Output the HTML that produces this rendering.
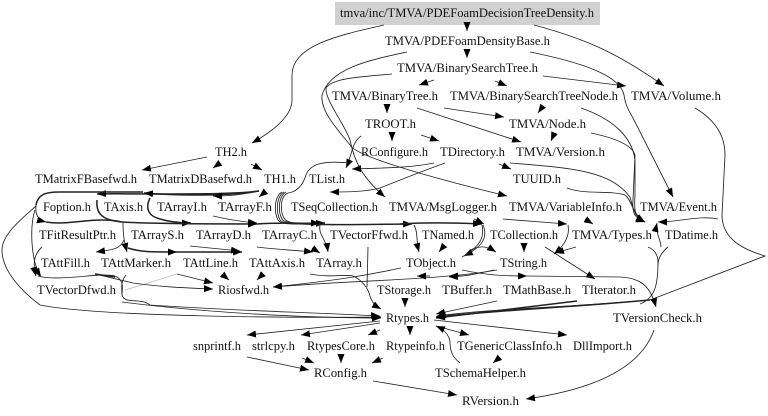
<!DOCTYPE html>
<html><head><meta charset="utf-8"><style>
html,body{margin:0;padding:0;background:#fff}
svg{display:block}
text{font-family:"Liberation Serif",serif;font-size:12.6px;fill:#111}
path{fill:none;stroke:#222;stroke-width:.85;marker-end:url(#a)}
path.n{marker-end:none}
path.t{stroke-width:1.5}
path.g{stroke:#bbb;marker-end:none}
</style></head><body>
<svg width="768" height="416" viewBox="0 0 768 416" xmlns="http://www.w3.org/2000/svg">
<defs><marker id="a" markerUnits="userSpaceOnUse" markerWidth="9" markerHeight="7" refX="9" refY="3.5" orient="auto"><path class="n" d="M0,0L9,3.5L0,7z" style="fill:#000;stroke:none"/></marker></defs>
<rect x="335" y="2" width="265" height="23" fill="#d0d0d0"/>
<g>
<path d="M467 23L467 31"/>
<path d="M467 50L467 58"/>
<path d="M384 25C340 35 292 45 292 75L292 100C292 115 275 130 252 143"/>
<path d="M534 25C590 40 620 55 664 86"/>
<path d="M407 52C370 60 330 68 322 95C320 112 340 132 350 145C354 155 420 175 507 196"/>
<path d="M392 74C360 77 332 78 326 88C325 100 345 125 350 140C355 165 365 180 385 197"/>
<path d="M361 136C352 142 352 155 346 168"/>
<path d="M434 80L419 85"/>
<path d="M495 81L507 86"/>
<path d="M543 76L626 86"/>
<path d="M530 52C580 62 620 75 624 95C626 108 630 112 634 120L673 197"/>
<path d="M387 105L387 113"/>
<path d="M444 108L504 117"/>
<path d="M417 108L521 142"/>
<path d="M543 106L538 113"/>
<path d="M554 134L551 141"/>
<path d="M392 134L392 141"/>
<path d="M421 135L439 141"/>
<path d="M581 108C610 118 632 135 635 160L635 195C634 210 634 216 645 222"/>
<path d="M591 133C615 138 632 145 635 155L633 200C632 212 634 218 645 222"/>
<path d="M510 163C570 168 610 170 630 197C634 212 636 218 645 222"/>
<path d="M567 188C585 195 610 190 625 195C632 200 632 214 645 222"/>
<path d="M718 219C700 215 680 222 658 222"/>
<path d="M695 108C715 120 725 135 725 155L722 215C722 240 745 250 765 256L650 300C560 308 500 308 437 316"/>
<path class="n" d="M648 247C655 250 658 255 658 262C658 285 655 298 640 304"/>
<path class="n" d="M668 247C662 252 658 258 658 265"/>
<path d="M661 247C661 240 655 232 657 223"/>
<path d="M207 157L142 170"/>
<path d="M220 163L213 168"/>
<path d="M251 164L262 170"/>
<path d="M265 192L259 197"/>
<path class="t" d="M259 191C220 196 120 193 97 194"/>
<path class="t" d="M259 191C230 196 180 196 144 193"/>
<path d="M259 191C240 195 230 196 213 196"/>
<path class="t n" d="M143 192L60 192C44 192 38 195 36 205"/>
<path d="M36 205C35 215 38 220 46 222"/>
<path d="M36 206C20 220 2 235 2 250C2 270 20 290 40 305C100 317 300 318 381 317"/>
<path d="M35 210C30 225 30 260 41 277"/>
<path d="M42 247C33 255 33 265 36 276"/>
<path class="t n" d="M97 200C96 212 100 220 122 222"/>
<path class="t" d="M150 198C145 208 148 216 160 219C170 222 180 223 191 223"/>
<path class="t" d="M46 222C70 226 95 216 122 222C150 224 220 224 257 224"/>
<path class="t" d="M257 224C280 222 300 224 325 223"/>
<path d="M213 216C230 220 245 222 257 223"/>
<path class="t" d="M285 223C330 226 380 224 412 224"/>
<path class="t" d="M400 224C430 222 460 223 482 224"/>
<path d="M350 163C320 160 310 165 306 175C302 188 295 192 288 193C280 196 280 212 284 218C287 224 295 223 320 223"/>
<path class="n" d="M286 192C278 197 278 212 282 219C285 224 295 223 310 224"/>
<path class="n" d="M284 192C276 197 276 212 280 220C283 224 295 224 310 224"/>
<path class="n" d="M282 192C274 197 274 212 278 220C281 225 295 224 310 224"/>
<path d="M434 163C410 168 380 168 352 169"/>
<path d="M445 163C420 172 400 180 380 188C365 192 345 192 330 192"/>
<path d="M499 164L511 169"/>
<path d="M503 219L567 224"/>
<path d="M568 225C570 235 565 245 554 254"/>
<path d="M576 247L555 253"/>
<path d="M585 219L593 224"/>
<path d="M524 245L524 252"/>
<path d="M545 247L595 279"/>
<path d="M443 247L439 252"/>
<path d="M414 225C418 232 416 240 419 252"/>
<path d="M474 219L484 224"/>
<path d="M483 225C487 235 486 245 464 256"/>
<path class="n" d="M482 225C484 235 483 245 462 257"/>
<path d="M470 250C480 246 485 245 496 252"/>
<path d="M257 247C280 250 295 250 313 252"/>
<path d="M312 248L320 253"/>
<path d="M320 225C318 235 326 238 328 252"/>
<path d="M123 222C123 235 124 240 127 252"/>
<path d="M124 240C120 250 110 250 96 252"/>
<path class="t" d="M128 248C140 252 150 252 177 252"/>
<path class="t" d="M177 252L242 252"/>
<path d="M190 246L240 251"/>
<path class="t n" d="M95 274L115 277"/>
<path d="M38 276C60 282 100 272 115 276C125 280 122 290 122 295C125 305 140 297 150 305C220 310 300 312 380 316"/>
<path class="n" d="M126 275C120 282 122 290 122 295"/>
<path d="M122 302C200 312 300 318 381 318"/>
<path d="M177 274L213 283"/>
<path class="g" d="M125 290L177 274"/>
<path d="M95 274L133 283C160 287 190 288 213 289"/>
<path d="M223 275L229 280"/>
<path d="M263 274L257 280"/>
<path d="M401 268C380 272 360 278 273 287"/>
<path d="M497 270C440 280 360 280 273 287"/>
<path d="M430 276L417 276"/>
<path d="M462 276L449 276"/>
<path d="M494 270C480 273 470 276 449 277"/>
<path d="M462 270C490 276 510 276 527 276"/>
<path d="M527 276L620 277C640 278 650 285 656 307"/>
<path class="n" d="M368 247L367 287"/>
<path d="M353 276C362 280 368 288 370 296C372 302 374 305 381 309"/>
<path class="n" d="M310 274C330 278 345 274 353 276"/>
<path d="M405 300L405 307"/>
<path d="M497 301L436 314"/>
<path class="t" d="M577 301L436 318"/>
<path class="t" d="M650 300C560 308 500 310 436 317"/>
<path d="M380 321L247 335"/>
<path d="M380 323L301 335"/>
<path d="M380 330L368 335"/>
<path d="M410 328L410 335"/>
<path d="M434 320L567 335"/>
<path d="M436 326L469 335"/>
<path d="M460 363C452 357 450 350 450 342C449 335 445 330 436 326"/>
<path d="M499 358L493 363"/>
<path d="M247 357L309 370"/>
<path d="M302 358L314 363"/>
<path d="M341 356L341 363"/>
<path d="M383 358L372 363"/>
<path d="M373 381L457 395"/>
<path d="M654 330C640 370 590 390 526 399"/>
</g>
<g>
<text x="340" y="17" textLength="254" lengthAdjust="spacingAndGlyphs">tmva/inc/TMVA/PDEFoamDecisionTreeDensity.h</text>
<text x="385" y="45" textLength="165" lengthAdjust="spacingAndGlyphs">TMVA/PDEFoamDensityBase.h</text>
<text x="397" y="72" textLength="141" lengthAdjust="spacingAndGlyphs">TMVA/BinarySearchTree.h</text>
<text x="332" y="100" textLength="106" lengthAdjust="spacingAndGlyphs">TMVA/BinaryTree.h</text>
<text x="450" y="100" textLength="168" lengthAdjust="spacingAndGlyphs">TMVA/BinarySearchTreeNode.h</text>
<text x="631" y="100" textLength="90" lengthAdjust="spacingAndGlyphs">TMVA/Volume.h</text>
<text x="365" y="128" textLength="51" lengthAdjust="spacingAndGlyphs">TROOT.h</text>
<text x="509" y="128" textLength="77" lengthAdjust="spacingAndGlyphs">TMVA/Node.h</text>
<text x="215" y="156" textLength="32" lengthAdjust="spacingAndGlyphs">TH2.h</text>
<text x="361" y="156" textLength="67" lengthAdjust="spacingAndGlyphs">RConfigure.h</text>
<text x="440" y="156" textLength="65" lengthAdjust="spacingAndGlyphs">TDirectory.h</text>
<text x="516" y="156" textLength="89" lengthAdjust="spacingAndGlyphs">TMVA/Version.h</text>
<text x="35" y="183" textLength="102" lengthAdjust="spacingAndGlyphs">TMatrixFBasefwd.h</text>
<text x="149" y="183" textLength="103" lengthAdjust="spacingAndGlyphs">TMatrixDBasefwd.h</text>
<text x="264" y="183" textLength="32" lengthAdjust="spacingAndGlyphs">TH1.h</text>
<text x="309" y="183" textLength="36" lengthAdjust="spacingAndGlyphs">TList.h</text>
<text x="513" y="183" textLength="48" lengthAdjust="spacingAndGlyphs">TUUID.h</text>
<text x="43" y="211" textLength="48" lengthAdjust="spacingAndGlyphs">Foption.h</text>
<text x="104" y="211" textLength="39" lengthAdjust="spacingAndGlyphs">TAxis.h</text>
<text x="157" y="211" textLength="50" lengthAdjust="spacingAndGlyphs">TArrayI.h</text>
<text x="218" y="211" textLength="54" lengthAdjust="spacingAndGlyphs">TArrayF.h</text>
<text x="291" y="211" textLength="87" lengthAdjust="spacingAndGlyphs">TSeqCollection.h</text>
<text x="389" y="211" textLength="108" lengthAdjust="spacingAndGlyphs">TMVA/MsgLogger.h</text>
<text x="509" y="211" textLength="113" lengthAdjust="spacingAndGlyphs">TMVA/VariableInfo.h</text>
<text x="640" y="211" textLength="77" lengthAdjust="spacingAndGlyphs">TMVA/Event.h</text>
<text x="39" y="239" textLength="77" lengthAdjust="spacingAndGlyphs">TFitResultPtr.h</text>
<text x="131" y="239" textLength="53" lengthAdjust="spacingAndGlyphs">TArrayS.h</text>
<text x="196" y="239" textLength="55" lengthAdjust="spacingAndGlyphs">TArrayD.h</text>
<text x="262" y="239" textLength="55" lengthAdjust="spacingAndGlyphs">TArrayC.h</text>
<text x="330" y="239" textLength="78" lengthAdjust="spacingAndGlyphs">TVectorFfwd.h</text>
<text x="422" y="239" textLength="52" lengthAdjust="spacingAndGlyphs">TNamed.h</text>
<text x="490" y="239" textLength="68" lengthAdjust="spacingAndGlyphs">TCollection.h</text>
<text x="572" y="239" textLength="80" lengthAdjust="spacingAndGlyphs">TMVA/Types.h</text>
<text x="665" y="239" textLength="53" lengthAdjust="spacingAndGlyphs">TDatime.h</text>
<text x="41" y="267" textLength="49" lengthAdjust="spacingAndGlyphs">TAttFill.h</text>
<text x="101" y="267" textLength="70" lengthAdjust="spacingAndGlyphs">TAttMarker.h</text>
<text x="183" y="267" textLength="55" lengthAdjust="spacingAndGlyphs">TAttLine.h</text>
<text x="249" y="267" textLength="56" lengthAdjust="spacingAndGlyphs">TAttAxis.h</text>
<text x="316" y="267" textLength="46" lengthAdjust="spacingAndGlyphs">TArray.h</text>
<text x="406" y="267" textLength="50" lengthAdjust="spacingAndGlyphs">TObject.h</text>
<text x="500" y="267" textLength="47" lengthAdjust="spacingAndGlyphs">TString.h</text>
<text x="37" y="294" textLength="79" lengthAdjust="spacingAndGlyphs">TVectorDfwd.h</text>
<text x="218" y="294" textLength="51" lengthAdjust="spacingAndGlyphs">Riosfwd.h</text>
<text x="377" y="294" textLength="54" lengthAdjust="spacingAndGlyphs">TStorage.h</text>
<text x="442" y="294" textLength="50" lengthAdjust="spacingAndGlyphs">TBuffer.h</text>
<text x="503" y="294" textLength="68" lengthAdjust="spacingAndGlyphs">TMathBase.h</text>
<text x="582" y="294" textLength="54" lengthAdjust="spacingAndGlyphs">TIterator.h</text>
<text x="386" y="322" textLength="43" lengthAdjust="spacingAndGlyphs">Rtypes.h</text>
<text x="613" y="322" textLength="89" lengthAdjust="spacingAndGlyphs">TVersionCheck.h</text>
<text x="193" y="350" textLength="48" lengthAdjust="spacingAndGlyphs">snprintf.h</text>
<text x="252" y="350" textLength="43" lengthAdjust="spacingAndGlyphs">strlcpy.h</text>
<text x="307" y="350" textLength="68" lengthAdjust="spacingAndGlyphs">RtypesCore.h</text>
<text x="386" y="350" textLength="59" lengthAdjust="spacingAndGlyphs">Rtypeinfo.h</text>
<text x="457" y="350" textLength="105" lengthAdjust="spacingAndGlyphs">TGenericClassInfo.h</text>
<text x="573" y="350" textLength="59" lengthAdjust="spacingAndGlyphs">DllImport.h</text>
<text x="314" y="377" textLength="53" lengthAdjust="spacingAndGlyphs">RConfig.h</text>
<text x="435" y="377" textLength="91" lengthAdjust="spacingAndGlyphs">TSchemaHelper.h</text>
<text x="462" y="405" textLength="57" lengthAdjust="spacingAndGlyphs">RVersion.h</text>
</g>
</svg>
</body></html>
